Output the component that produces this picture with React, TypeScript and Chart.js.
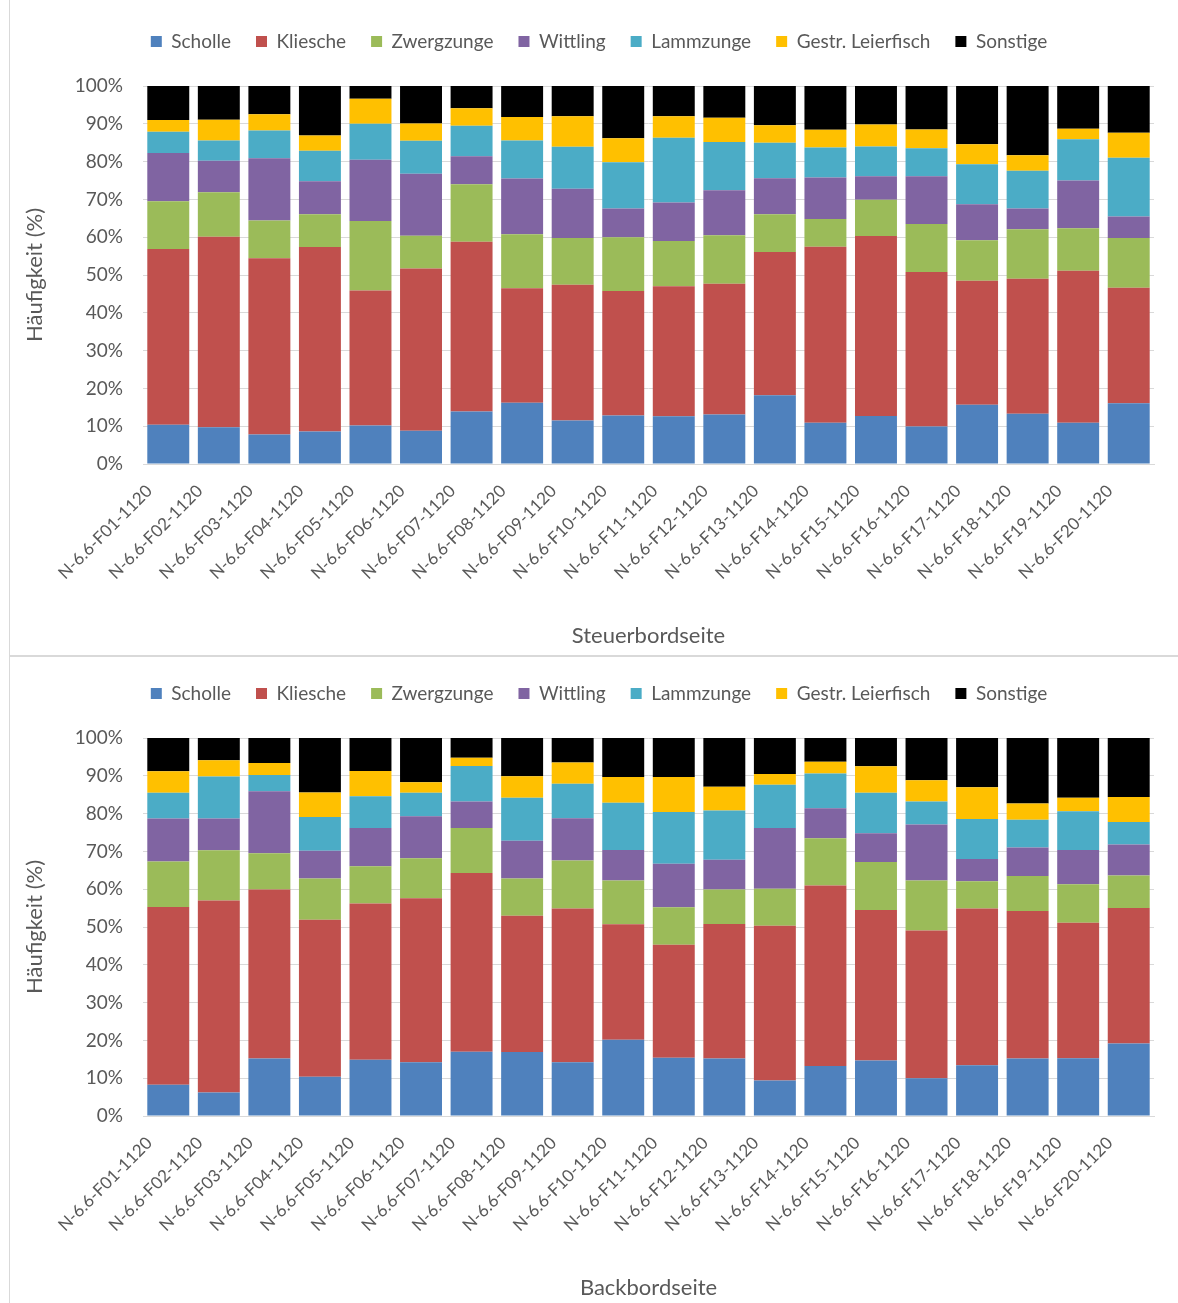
import React, { useEffect, useRef } from "react";
import { Chart, registerables } from "chart.js";

Chart.register(...registerables);

const categories = [
  "N-6.6-F01-1120", "N-6.6-F02-1120", "N-6.6-F03-1120", "N-6.6-F04-1120", "N-6.6-F05-1120",
  "N-6.6-F06-1120", "N-6.6-F07-1120", "N-6.6-F08-1120", "N-6.6-F09-1120", "N-6.6-F10-1120",
  "N-6.6-F11-1120", "N-6.6-F12-1120", "N-6.6-F13-1120", "N-6.6-F14-1120", "N-6.6-F15-1120",
  "N-6.6-F16-1120", "N-6.6-F17-1120", "N-6.6-F18-1120", "N-6.6-F19-1120", "N-6.6-F20-1120",
];

const seriesNames = ["Scholle", "Kliesche", "Zwergzunge", "Wittling", "Lammzunge", "Gestr. Leierfisch", "Sonstige"];
const seriesColors = ["#4F81BD", "#C0504D", "#9BBB59", "#8064A2", "#4BACC6", "#FFC000", "#000000"];
const yTicks = [0, 10, 20, 30, 40, 50, 60, 70, 80, 90, 100];

// Steuerbordseite
const sbScholle = [10.4, 9.7, 7.8, 8.6, 10.2, 8.8, 13.9, 16.2, 11.5, 12.8, 12.6, 13.1, 18.2, 10.9, 12.7, 9.9, 15.7, 13.3, 10.9, 16.1];
const sbKliesche = [46.5, 50.4, 46.6, 48.8, 35.7, 42.9, 44.9, 30.3, 35.9, 33.0, 34.4, 34.6, 37.9, 46.6, 47.6, 40.9, 32.8, 35.7, 40.2, 30.5];
const sbZwergzunge = [12.6, 11.8, 10.0, 8.7, 18.4, 8.7, 15.2, 14.3, 12.4, 14.2, 12.0, 12.8, 10.0, 7.3, 9.6, 12.7, 10.7, 13.1, 11.3, 13.2];
const sbWittling = [12.8, 8.3, 16.5, 8.7, 16.2, 16.4, 7.4, 14.7, 13.0, 7.6, 10.2, 11.9, 9.5, 11.0, 6.2, 12.6, 9.5, 5.5, 12.6, 5.7];
const sbLammzunge = [5.6, 5.4, 7.3, 8.1, 9.5, 8.7, 8.1, 10.1, 11.1, 12.2, 17.1, 12.8, 9.4, 7.9, 7.9, 7.4, 10.6, 10.0, 10.9, 15.5];
const sbLeierfisch = [3.1, 5.5, 4.3, 4.0, 6.6, 4.6, 4.6, 6.2, 8.1, 6.4, 5.7, 6.4, 4.6, 4.7, 5.8, 5.0, 5.3, 4.1, 2.8, 6.6];
const sbSonstige = [9.0, 8.9, 7.5, 13.1, 3.4, 9.9, 5.9, 8.2, 8.0, 13.8, 8.0, 8.4, 10.4, 11.6, 10.2, 11.5, 15.4, 18.3, 11.3, 12.4];

// Backbordseite
const bbScholle = [8.3, 6.2, 15.2, 10.4, 14.9, 14.2, 17.0, 16.9, 14.2, 20.2, 15.4, 15.2, 9.4, 13.2, 14.7, 10.0, 13.4, 15.2, 15.3, 19.2];
const bbKliesche = [47.0, 50.8, 44.7, 41.5, 41.3, 43.4, 47.3, 36.1, 40.7, 30.5, 29.9, 35.6, 40.9, 47.8, 39.8, 39.1, 41.5, 39.0, 35.8, 35.8];
const bbZwergzunge = [12.0, 13.3, 9.6, 10.9, 9.9, 10.6, 11.9, 9.8, 12.7, 11.6, 9.9, 9.1, 9.8, 12.5, 12.7, 13.2, 7.2, 9.3, 10.2, 8.6];
const bbWittling = [11.4, 8.4, 16.4, 7.4, 10.1, 11.1, 7.0, 10.0, 11.2, 8.1, 11.5, 7.9, 16.1, 7.9, 7.6, 14.8, 5.9, 7.5, 9.1, 8.2];
const bbLammzunge = [6.8, 11.1, 4.3, 8.9, 8.4, 6.2, 9.4, 11.4, 9.1, 12.5, 13.7, 13.0, 11.4, 9.2, 10.7, 6.1, 10.6, 7.4, 10.2, 6.0];
const bbLeierfisch = [5.7, 4.3, 3.2, 6.5, 6.7, 2.8, 2.2, 5.7, 5.6, 6.8, 9.3, 6.3, 2.9, 3.1, 7.0, 5.6, 8.4, 4.3, 3.6, 6.6];
const bbSonstige = [8.8, 5.9, 6.6, 14.4, 8.7, 11.7, 5.2, 10.1, 6.5, 10.3, 10.3, 12.9, 9.5, 6.3, 7.5, 11.2, 13.0, 17.3, 15.8, 15.6];

const FONT = "Lato, 'Open Sans', sans-serif";
const TEXT = "#595959";
const CW = 1178;
const CH = 652;
const PAD_TOP = 2;
const PLOT_TOP = 81;
const PLOT_BOTTOM = 459;
const LEGEND_SHIFT = 14;

const legendHeightPlugin = {
  id: "legendHeight",
  afterInit(chart: any) {
    const legend = chart.legend;
    if (!legend) return;
    const orig = legend.fit.bind(legend);
    legend.fit = function () {
      orig();
      this.height = PLOT_TOP - PAD_TOP;
    };
  },
  afterLayout(chart: any) {
    const legend = chart.legend;
    if (!legend) return;
    legend.left += LEGEND_SHIFT;
    legend.right += LEGEND_SHIFT;
  },
};

function StackChart({ values, xTitle }: { values: number[][]; xTitle: string }) {
  const ref = useRef<HTMLCanvasElement | null>(null);
  useEffect(() => {
    if (!ref.current) return;
    const chart = new Chart(ref.current, {
      type: "bar",
      data: {
        labels: categories,
        datasets: seriesNames.map((name, i) => ({
          label: name,
          data: values[i],
          backgroundColor: seriesColors[i],
          borderWidth: 0,
          barPercentage: 0.83,
          categoryPercentage: 1,
        })),
      },
      plugins: [legendHeightPlugin],
      options: {
        responsive: false,
        animation: false,
        devicePixelRatio: 1,
        layout: { padding: { left: 16, right: 24, top: PAD_TOP, bottom: 8 } },
        plugins: {
          tooltip: { enabled: false },
          legend: {
            position: "top",
            labels: {
              boxWidth: 11,
              boxHeight: 11,
              padding: 25,
              color: TEXT,
              font: { family: FONT, size: 19 },
            },
          },
        },
        scales: {
          x: {
            stacked: true,
            grid: { display: false },
            border: { display: true, color: "#d9d9d9" },
            ticks: {
              color: TEXT,
              font: { family: FONT, size: 17 },
              minRotation: 45,
              maxRotation: 45,
              autoSkip: false,
              labelOffset: -19,
              padding: 9,
            },
            title: {
              display: true,
              text: xTitle,
              color: TEXT,
              font: { family: FONT, size: 22 },
              padding: { top: 0, bottom: 0 },
            },
            afterFit: (s: any) => {
              s.height = CH - 8 - PLOT_BOTTOM;
            },
          },
          y: {
            stacked: true,
            min: 0,
            max: 100,
            afterBuildTicks: (s: any) => {
              s.ticks = yTicks.map((v) => ({ value: v }));
            },
            grid: { color: "#d9d9d9", drawTicks: false },
            border: { display: false },
            ticks: {
              color: TEXT,
              font: { family: FONT, size: 19 },
              padding: 20,
              callback: (v: any) => v + "%",
            },
            title: {
              display: true,
              text: "Häufigkeit (%)",
              color: TEXT,
              font: { family: FONT, size: 22 },
              padding: { top: 6, bottom: 0 },
            },
            afterFit: (s: any) => {
              s.width = 143 - 16;
            },
          },
        },
      },
    });
    return () => chart.destroy();
  }, [values, xTitle]);
  return <canvas ref={ref} width={CW} height={CH} style={{ width: CW, height: CH, display: "block" }} />;
}

const sbValues = [sbScholle, sbKliesche, sbZwergzunge, sbWittling, sbLammzunge, sbLeierfisch, sbSonstige];
const bbValues = [bbScholle, bbKliesche, bbZwergzunge, bbWittling, bbLammzunge, bbLeierfisch, bbSonstige];

export default function App() {
  return (
    <div style={{ position: "absolute", left: 0, top: 0, width: CW, height: 1303, background: "#fff", overflow: "hidden" }}>
      <div style={{ position: "absolute", left: 9, top: -1, width: 1180, height: 657, border: "1px solid #d9d9d9", boxSizing: "border-box" }} />
      <div style={{ position: "absolute", left: 9, top: 656, width: 1180, height: 660, border: "1px solid #d9d9d9", boxSizing: "border-box" }} />
      <div style={{ position: "absolute", left: 0, top: 5 }}>
        <StackChart values={sbValues} xTitle="Steuerbordseite" />
      </div>
      <div style={{ position: "absolute", left: 0, top: 657 }}>
        <StackChart values={bbValues} xTitle="Backbordseite" />
      </div>
    </div>
  );
}
